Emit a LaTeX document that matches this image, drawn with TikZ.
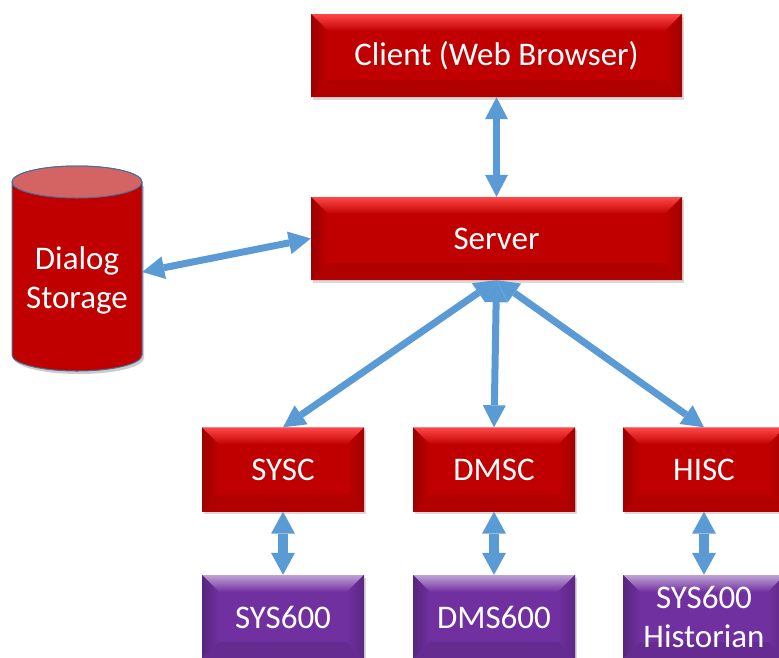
\documentclass[tikz,border=0pt]{standalone}
\usepackage{fontspec}
\setmainfont{Carlito}
\usetikzlibrary{arrows.meta,shadows}

\definecolor{boxred}{HTML}{C00000}
\definecolor{boxpurple}{HTML}{7030A0}
\definecolor{linkblue}{HTML}{5B9BD5}
\definecolor{drumtop}{HTML}{D46464}
\definecolor{drumline}{HTML}{41719C}

\begin{document}
\begin{tikzpicture}[x=1pt, y=1pt,
    every node/.style={font=\fontsize{33}{39}\selectfont, text=white, align=center},
    bevel/.code args={#1/#2/#3/#4/#5}{\colorlet{bvmain}{#1}\colorlet{bvtop}{#2}%
      \colorlet{bvleft}{#3}\colorlet{bvright}{#4}\colorlet{bvbot}{#5}},
    box/.style={rectangle, inner sep=0pt, minimum width=162pt, minimum height=84pt, fill=bvmain,
      drop shadow={shadow xshift=1.5pt, shadow yshift=-2.5pt, opacity=0.3},
      path picture={
        \def\bv{17pt}
        \path (path picture bounding box.north west) coordinate (bvA)
              (path picture bounding box.north east) coordinate (bvB)
              (path picture bounding box.south east) coordinate (bvC)
              (path picture bounding box.south west) coordinate (bvD);
        \fill[top color=bvtop, bottom color=bvmain] (bvA) -- (bvB) -- ([shift={(-\bv,-\bv)}]bvB) -- ([shift={(\bv,-\bv)}]bvA) -- cycle;
        \fill[left color=bvleft, right color=bvmain] (bvA) -- ([shift={(\bv,-\bv)}]bvA) -- ([shift={(\bv,\bv)}]bvD) -- (bvD) -- cycle;
        \fill[right color=bvright, left color=bvmain] (bvB) -- ([shift={(-\bv,-\bv)}]bvB) -- ([shift={(-\bv,\bv)}]bvC) -- (bvC) -- cycle;
        \fill[bvbot] (bvD) -- ([shift={(\bv,\bv)}]bvD) -- ([shift={(-\bv,\bv)}]bvC) -- (bvC) -- cycle;
      }},
    redbox/.style={bevel=boxred/red!72!white/boxred!80!black/boxred!84!black/boxred!92!black, box},
    purplebox/.style={bevel=boxpurple/boxpurple!45!white/boxpurple!78!black/boxpurple!82!black/boxpurple!90!black, box},
    link/.style={draw=linkblue, line width=7pt,
      {Triangle[length=22pt,width=23pt,line width=0pt]}-{Triangle[length=22pt,width=23pt,line width=0pt]}},
    shortlink/.style={draw=linkblue, line width=10pt,
      {Triangle[length=22pt,width=24pt,line width=0pt]}-{Triangle[length=22pt,width=24pt,line width=0pt]}}]

  \useasboundingbox (0,0) rectangle (779,-657);
  \clip (0,0) rectangle (779,-657);

  % Client and server
  \node[redbox, minimum width=371pt, minimum height=83pt] (client) at (496.5,-55.5) {Client (Web Browser)};
  \node[redbox, minimum width=371pt, minimum height=83pt] (server) at (496.5,-238.5) {Server};

  % Connectors
  \node[redbox] (sysc) at (283,-469.5) {SYSC};
  \node[redbox] (dmsc) at (494,-469.5) {DMSC};
  \node[redbox] (hisc) at (704,-469.5) {HISC};

  % Systems
  \node[purplebox] (sys) at (283,-617) {SYS600};
  \node[purplebox] (dms) at (494,-617) {DMS600};
  \node[purplebox] (hist) at (704,-617) {SYS600\\Historian};

  % Dialog storage
  \fill[black, opacity=0.2] (14,-186) -- (14,-358) arc[start angle=180, end angle=360, x radius=65, y radius=16] -- (144,-186) -- cycle;
  \filldraw[fill=boxred, draw=drumline, line width=1pt] (12,-182) -- (12,-355)
    arc[start angle=180, end angle=360, x radius=65, y radius=16] -- (142,-182)
    arc[start angle=0, end angle=180, x radius=65, y radius=16] -- cycle;
  \filldraw[fill=drumtop, draw=drumline, line width=1pt] (77,-182) ellipse[x radius=65, y radius=16];
  \node[minimum width=130pt, minimum height=100pt] (store) at (77,-280) {Dialog\\Storage};

  % Arrows
  \draw[link] (client.south) -- (server.north);
  \draw[link] ([yshift=8pt]store.east) -- (server.west);
  \foreach \n in {sysc,dmsc,hisc}
    \draw[link] (server.south) -- (\n.north);
  \draw[shortlink] (sysc.south) -- (sys.north);
  \draw[shortlink] (dmsc.south) -- (dms.north);
  \draw[shortlink] (hisc.south) -- (hist.north);
\end{tikzpicture}
\end{document}
